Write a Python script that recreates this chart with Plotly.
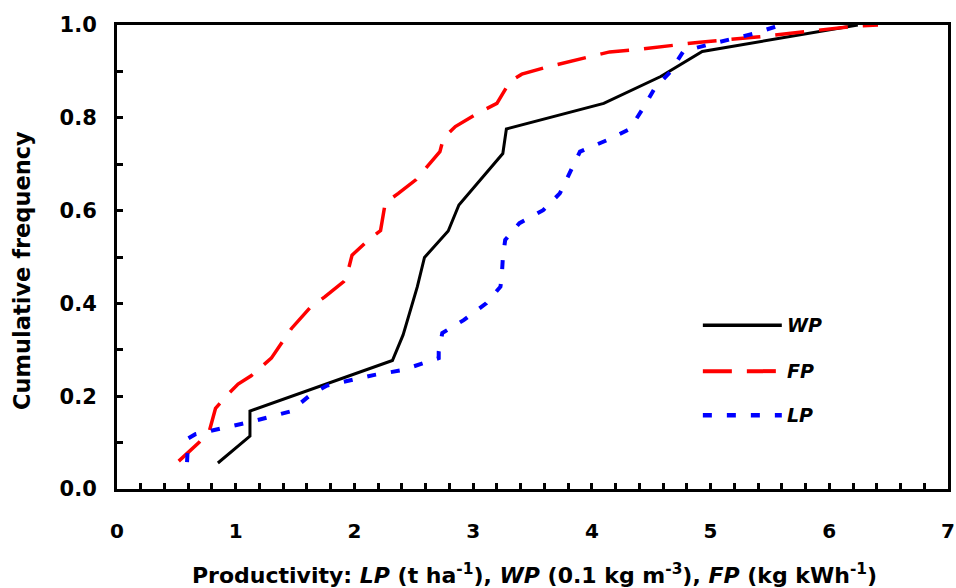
import plotly.graph_objects as go

# ---- data ----
wp_x = [0.85, 1.12, 1.12, 2.32, 2.41, 2.53, 2.59, 2.79, 2.88, 3.06, 3.25, 3.28, 4.10, 4.58, 4.93, 6.24]
wp_y = [0.056, 0.114, 0.168, 0.277, 0.332, 0.436, 0.499, 0.556, 0.612, 0.667, 0.723, 0.776, 0.831, 0.889, 0.943, 1.0]

fp_x = [0.52, 0.69, 0.78, 0.83, 0.95, 1.02, 1.13, 1.30, 1.47, 1.63, 1.75, 1.91, 1.93, 1.98, 2.12, 2.22,
        2.26, 2.37, 2.52, 2.65, 2.72, 2.75, 2.85, 3.04, 3.17, 3.20, 3.31, 3.41, 3.63, 4.00, 4.15, 4.38,
        4.74, 4.91, 5.39, 5.86, 6.23, 6.41]
fp_y = [0.060, 0.100, 0.127, 0.174, 0.208, 0.226, 0.244, 0.282, 0.346, 0.392, 0.414, 0.447, 0.454, 0.504,
        0.537, 0.557, 0.617, 0.637, 0.667, 0.705, 0.727, 0.756, 0.781, 0.810, 0.827, 0.831, 0.878, 0.894,
        0.910, 0.932, 0.942, 0.947, 0.957, 0.963, 0.974, 0.988, 0.998, 1.0]

lp_x = [0.59, 0.60, 0.66, 0.81, 1.02, 1.13, 1.46, 1.63, 1.77, 1.99, 2.17, 2.40, 2.58, 2.71, 2.71, 2.74,
        2.92, 3.11, 3.23, 3.24, 3.25, 3.27, 3.39, 3.59, 3.73, 3.84, 3.90, 4.13, 4.32, 4.43, 4.53, 4.66,
        4.77, 4.97, 5.36, 5.59]
lp_y = [0.058, 0.109, 0.118, 0.127, 0.138, 0.145, 0.167, 0.203, 0.223, 0.235, 0.246, 0.256, 0.271, 0.282,
        0.296, 0.336, 0.364, 0.400, 0.436, 0.454, 0.497, 0.537, 0.573, 0.601, 0.637, 0.695, 0.727, 0.752,
        0.776, 0.820, 0.864, 0.899, 0.943, 0.957, 0.981, 1.0]

series_names = ["WP", "FP", "LP"]
x_ticks = [0, 1, 2, 3, 4, 5, 6, 7]
y_ticks = [0.0, 0.2, 0.4, 0.6, 0.8, 1.0]
y_tick_text = ["0.0", "0.2", "0.4", "0.6", "0.8", "1.0"]
x_title = ("Productivity: <i>LP</i> (t ha<sup>-1</sup>), <i>WP</i> (0.1 kg m<sup>-3</sup>), "
           "<i>FP</i> (kg kWh<sup>-1</sup>)")
y_title = "Cumulative frequency"

FONT = "DejaVu Sans, Liberation Sans, Arial, sans-serif"
styles = {
    "WP": dict(color="black", width=3, dash="solid"),
    "FP": dict(color="#ff0000", width=3.5, dash="29px,15px"),
    "LP": dict(color="#0000ff", width=4, dash="9px,15px"),
}

fig = go.Figure()
for name, xs, ys in [("WP", wp_x, wp_y), ("FP", fp_x, fp_y), ("LP", lp_x, lp_y)]:
    fig.add_trace(go.Scatter(x=xs, y=ys, mode="lines", name=name, line=styles[name],
                             showlegend=False))

# manual legend (paper coordinates) to mimic long line samples
leg_x0, leg_x1 = 0.705, 0.80
leg_y = [0.353, 0.254, 0.159]
for name, ly in zip(series_names, leg_y):
    st = styles[name]
    fig.add_shape(type="line", xref="paper", yref="paper", x0=leg_x0, x1=leg_x1, y0=ly, y1=ly,
                  line=dict(color=st["color"], width=st["width"] + 0.5, dash=st["dash"]))
    fig.add_annotation(xref="paper", yref="paper", x=leg_x1 + 0.004, y=ly, xanchor="left",
                       yanchor="middle", showarrow=False,
                       text=f"<b><i>{name}</i></b>", font=dict(family=FONT, size=19, color="black"))

# axis titles as annotations for exact placement
fig.add_annotation(xref="paper", yref="paper", x=0.503, y=0, yshift=-85, xanchor="center",
                   yanchor="middle", showarrow=False, text=f"<b>{x_title}</b>",
                   font=dict(family=FONT, size=22, color="black"))
fig.add_annotation(xref="paper", yref="paper", x=0, xshift=-95, y=0.47, xanchor="center",
                   yanchor="middle", textangle=-90, showarrow=False, text=f"<b>{y_title}</b>",
                   font=dict(family=FONT, size=22.5, color="black"))

axis_common = dict(
    showgrid=False, zeroline=False, showline=True, linecolor="black", linewidth=3, mirror=True,
    ticks="inside", ticklen=6, tickwidth=3, tickcolor="black", automargin=False,
)

fig.update_xaxes(
    **axis_common, range=[0, 7], tickvals=x_ticks, ticktext=[f"<b>{v}</b>" for v in x_ticks],
    tickfont=dict(family=FONT, size=20, color="black"),
    minor=dict(dtick=0.2, ticks="inside", ticklen=6, tickwidth=3, tickcolor="black"),
    ticklabelstandoff=22,
)
fig.update_yaxes(
    **axis_common, range=[0, 1], tickvals=y_ticks, ticktext=[f"<b>{t}</b>" for t in y_tick_text],
    tickfont=dict(family=FONT, size=21, color="black"),
    minor=dict(dtick=0.1, ticks="inside", ticklen=6, tickwidth=3, tickcolor="black"),
    ticklabelstandoff=13,
)

fig.update_layout(
    width=956, height=588, plot_bgcolor="white", paper_bgcolor="white",
    margin=dict(l=117, r=8, t=25, b=99), showlegend=False,
)

fig.write_html("out.html", config={"displayModeBar": False},
               post_script="document.body.style.margin='0';document.body.style.overflow='hidden';")
